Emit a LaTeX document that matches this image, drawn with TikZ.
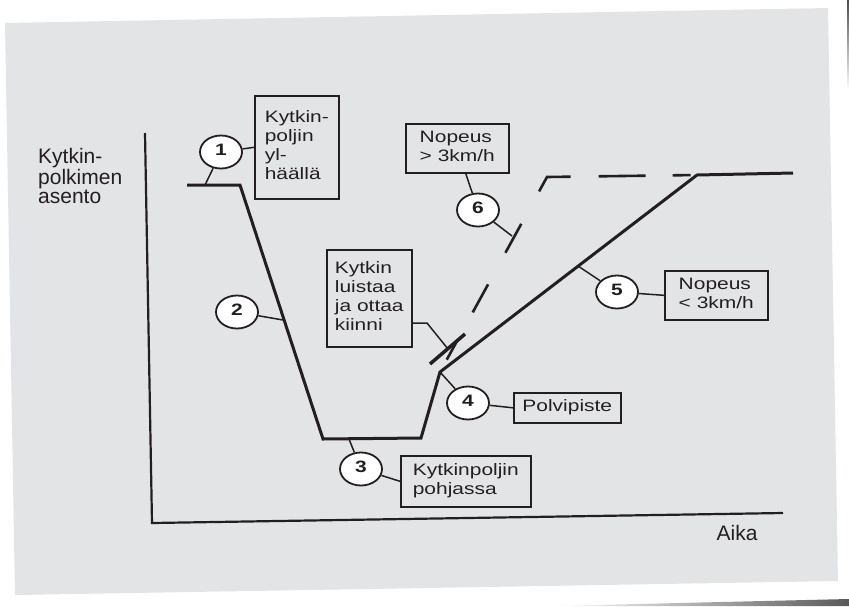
\documentclass[tikz,border=0pt]{standalone}
\usepackage{graphicx}
\usepackage{fontspec}
\setmainfont{Liberation Sans}
\usetikzlibrary{shapes.geometric}
\definecolor{cardgray}{RGB}{227,228,230}
\definecolor{ink}{RGB}{35,31,32}
% box texts are printed wider than they are high
\newcommand\wide[1]{\scalebox{1.27}[1]{\begin{tabular}{@{}l@{}}#1\end{tabular}}}

\tikzset{
	num/.style={ellipse, draw=ink, line width=1.8pt, fill=white, minimum width=42pt, minimum height=33pt, inner sep=0pt, font=\fontsize{16.5}{18}\selectfont\bfseries},
	lbl/.style={draw=ink, line width=1.6pt, inner sep=0pt, anchor=north west, font=\fontsize{16.5}{19}\selectfont},
	curve/.style={line width=3pt, line join=miter},
	conn/.style={line width=1.5pt},
}

\begin{document}
\begin{tikzpicture}[x=1pt, y=-1pt, ink, text=ink]
	\useasboundingbox (0,0) rectangle (849,606);
	% card and its shadow
	\fill[cardgray] (5,23) -- (828,8) -- (838,581) -- (15,595) -- cycle;
	\shade[left color=white, right color=black!65] (552,606) -- (849,599) -- (849,606) -- cycle;
	\shade[top color=black!70, bottom color=white] (847,0) rectangle (849,90);

	% axes
	\draw[line width=2.2pt] (145,133) -- (152,523) -- (783,513);
	\node[align=left, anchor=west, inner sep=0pt, font=\fontsize{21}{19}\selectfont] (ylab) at (38,176) {Kytkin-\\polkimen\\asento};
	\node[font=\fontsize{21}{24}\selectfont] (xlab) at (737,533) {Aika};

	% pedal position
	\coordinate (p1) at (187,185);
	\coordinate (p2) at (240,185);
	\coordinate (p3) at (323,439);
	\coordinate (p4) at (421,438);
	\coordinate (knee) at (440,372);
	\coordinate (p6) at (697,175);
	\coordinate (p7) at (793,173);
	\coordinate (q1) at (547,177);
	\draw[curve] (p1) -- (p2) -- (p3) -- (p4) -- (knee) -- (p6) -- (p7);
	\draw[line width=2.6pt, dash pattern=on 0pt off 14pt on 23pt off 31pt on 32pt off 36pt on 33pt off 37pt on 40pt off 28pt on 47pt off 27pt on 18pt off 20pt] (knee) -- (q1) -- (p6);
	\coordinate (m1) at (430,364);
	\coordinate (m2) at (465,334);
	\draw[line width=3.5pt] (m1) -- (m2);

	% points on the lines
	\coordinate (t1) at (205,185);
	\coordinate (t2) at (283,320);
	\coordinate (t3) at (349,439);
	\coordinate (t5) at (578,266);
	\coordinate (t6) at (512,236);
	\coordinate (k7) at (427,323);
	\coordinate (m7) at (448,349);

	% labels
	\node[lbl, minimum width=84pt, minimum height=103pt] (b1) at (254,95) {\wide{Kytkin-\\poljin\\yl-\\häällä}};
	\node[lbl, minimum width=85pt, minimum height=97pt] (b7) at (326,249) {\wide{Kytkin\\luistaa\\ja ottaa\\kiinni}};
	\node[lbl, minimum width=103pt, minimum height=49pt] (b6) at (405,123) {\wide{Nopeus\\> 3km/h}};
	\node[lbl, minimum width=130pt, minimum height=51pt] (b3) at (400,455) {\wide{Kytkinpoljin\\pohjassa}};
	\node[lbl, minimum width=107pt, minimum height=30pt] (b4) at (513,392) {\wide{Polvipiste}};
	\node[lbl, minimum width=103pt, minimum height=49pt] (b5) at (664,270) {\wide{Nopeus\\< 3km/h}};

	\node[num] (c1) at (221,152) {\wide{1}};
	\node[num] (c2) at (237,312) {\wide{2}};
	\node[num] (c3) at (361,469) {\wide{3}};
	\node[num] (c4) at (468,403) {\wide{4}};
	\node[num] (c5) at (617,292) {\wide{5}};
	\node[num] (c6) at (478,210) {\wide{6}};

	% connectors
	\draw[conn] (c1) -- (b1.west);
	\draw[conn] (c1) -- (t1);
	\draw[conn] (c2) -- (t2);
	\draw[conn] (c3) -- (t3);
	\draw[conn] (c3) -- (b3.west);
	\draw[conn] (c4) -- (knee);
	\draw[conn] (c4) -- (b4.west);
	\draw[conn] (c5) -- (t5);
	\draw[conn] (c5) -- (b5.west);
	\draw[conn] (c6) -- (b6);
	\draw[conn] (c6) -- (t6);
	\draw[conn] (b7.east |- k7) -- (k7) -- (m7);
\end{tikzpicture}
\end{document}
